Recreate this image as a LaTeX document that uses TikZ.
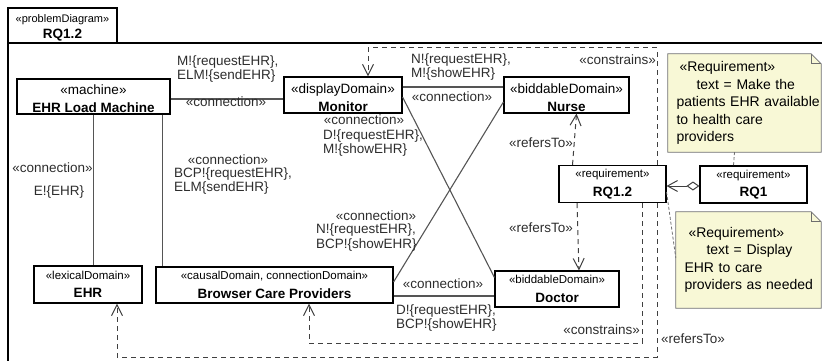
\documentclass[tikz,border=0pt]{standalone}
\usepackage{fontspec}
\setmainfont{Liberation Sans}
\usepackage{xcolor}
\usetikzlibrary{arrows.meta}

\definecolor{linegray}{RGB}{85,85,85}
\definecolor{textgray}{RGB}{45,45,45}
\definecolor{noteyellow}{RGB}{248,248,214}
\definecolor{notegray}{RGB}{110,110,110}
\newcommand{\stsmall}{\fontsize{11.5}{13}\selectfont}

\begin{document}
\begin{tikzpicture}[x=1pt,y=-1pt,
  >={Straight Barb[length=11pt,width=11pt]},
  every node/.style={font=\fontsize{13.5}{14.5}\selectfont, text=textgray, inner sep=0pt},
  box/.style={draw=black, line width=1.1pt, fill=white, align=center, text=black},
  conn/.style={draw=linegray, line width=1.1pt},
  dep/.style={draw=black!75, line width=1pt, dash pattern=on 5pt off 4pt, ->},
  agg/.style={draw=black!75, line width=1pt,
    arrows={Straight Barb[length=10pt,width=11pt]-Diamond[open,length=13pt,width=9pt]}},
  lbl/.style={align=left},
  note/.style={fill=noteyellow, align=left, text=black, inner xsep=8.5pt,
    font=\fontsize{14}{17.5}\selectfont},
  notelink/.style={draw=notegray, line width=0.8pt, dash pattern=on 3pt off 2pt}]

  \useasboundingbox (0,0) rectangle (822,361);

  % Diagram frame with its tab
  \draw[line width=1.1pt] (822,43) -- (8,43) -- (8,361);
  \node[box, minimum width=109pt, minimum height=35pt] (tab) at (62.5,25.5)
    {\rule{0pt}{13pt}{\fontsize{11}{12}\selectfont «problemDiagram»}\\[2pt]\textbf{RQ1.2}};

  % Domains and machine
  \node[box, minimum width=153pt, minimum height=35pt] (elm) at (93.5,96.5)
    {\rule{0pt}{14.5pt}«machine»\\[3.5pt]\textbf{EHR Load Machine}};
  \node[box, minimum width=118pt, minimum height=36pt] (mon) at (343,95)
    {\rule{0pt}{14.5pt}«displayDomain»\\[3.5pt]\textbf{Monitor}};
  \node[box, minimum width=125pt, minimum height=36pt] (nurse) at (566.5,95)
    {\rule{0pt}{14.5pt}«biddableDomain»\\[3.5pt]\textbf{Nurse}};
  \node[box, minimum width=108pt, minimum height=37pt] (ehr) at (88,284.5)
    {{\stsmall «lexicalDomain»}\\[4pt]\textbf{EHR}};
  \node[box, minimum width=237pt, minimum height=36pt] (bcp) at (274.5,285)
    {{\stsmall «causalDomain, connectionDomain»}\\[4pt]\textbf{Browser Care Providers}};
  \node[box, minimum width=124pt, minimum height=36pt] (doc) at (557,289)
    {{\stsmall «biddableDomain»}\\[4pt]\textbf{Doctor}};

  % Requirements
  \node[box, minimum width=107pt, minimum height=37pt] (rq12) at (612.5,184)
    {{\stsmall «requirement»}\\[4pt]\textbf{RQ1.2}};
  \node[box, minimum width=107pt, minimum height=37pt] (rq1) at (753.5,184.5)
    {{\stsmall «requirement»}\\[4pt]\textbf{RQ1}};

  % Notes
  \node[note, text width=136pt, minimum height=98pt] (note1) at (744.5,103)
    {\mbox{\hspace*{3pt}«Requirement»}\\\mbox{\hspace*{20pt}text = Make the}\\
     \mbox{patients EHR available}\\\mbox{to health care}\\\mbox{providers}};
  \node[note, text width=128pt, minimum height=96pt] (note2) at (748.5,260)
    {\mbox{\hspace*{4pt}«Requirement»}\\\mbox{\hspace*{22pt}text = Display}\\
     \mbox{EHR to care}\\\mbox{providers as needed}};
  \foreach \n in {note1,note2} {
    \fill[white] ([xshift=-10pt]\n.north east) -- (\n.north east) -- ([yshift=-10pt]\n.north east) -- cycle;
    \draw[notegray, line width=0.8pt] (\n.south west) -- (\n.north west) -- ([xshift=-10pt]\n.north east)
      -- ([yshift=-10pt]\n.north east) -- (\n.south east) -- cycle;
    \draw[notegray, line width=0.8pt] ([xshift=-10pt]\n.north east) |- ([yshift=-10pt]\n.north east);
  }
  \draw[notelink] ([xshift=-10pt]note1.south) -- ([xshift=-20pt]rq1.north);
  \draw[notelink] ([yshift=-8pt]rq12.east) -- ([yshift=2pt]note2.west);

  % Connections
  \draw[conn] ([yshift=-2.5pt]elm.east) -- ([yshift=-2.5pt]elm.east -| mon.west);
  \draw[conn] (elm.south) -- (elm.south |- ehr.north);
  \draw[conn] ([xshift=-8pt]elm.south east) -- ([xshift=-8pt]elm.south east |- bcp.north);
  \draw[conn] ([yshift=8pt]mon.east) -- ([yshift=8pt]mon.east -| nurse.west);
  \draw[conn] ([yshift=-2pt]mon.east) -- ([yshift=-7pt]doc.north west);
  \draw[conn] ([yshift=-7pt]nurse.west) -- ([yshift=3pt]bcp.east);
  \draw[conn] ([yshift=-11pt]bcp.east) -- ([yshift=-11pt]bcp.east -| doc.west);

  \node[lbl, anchor=west] (l1) at (177,69) {M!\{requestEHR\},\\ELM!\{sendEHR\}};
  \node (l2) at (226,102) {«connection»};
  \node (l3) at (52.5,168) {«connection»};
  \node (l4) at (59,192) {E!\{EHR\}};
  \node (l5) at (228,160) {«connection»};
  \node[lbl, anchor=west] (l6) at (174,181) {BCP!\{requestEHR\},\\ELM\{sendEHR\}};
  \node[lbl, anchor=west] (l7) at (411,67) {N!\{requestEHR\},\\M!\{showEHR\}};
  \node (l8) at (452,97) {«connection»};
  \node (l9) at (364,119.5) {«connection»};
  \node[lbl, anchor=west] (l10) at (323,143) {D!\{requestEHR\},\\M!\{showEHR\}};
  \node (l11) at (376,216) {«connection»};
  \node[lbl, anchor=west] (l12) at (316,237.5) {N!\{requestEHR\},\\BCP!\{showEHR\}};
  \node (l13) at (443,284) {«connection»};
  \node[lbl, anchor=west] (l14) at (396,318) {D!\{requestEHR\},\\BCP!\{showEHR\}};

  % Requirement links
  \coordinate (ctop) at (0,48);
  \coordinate (cbot1) at (0,343);
  \coordinate (cbot2) at (0,357);
  \draw[dep] ([xshift=-40pt]rq12.north) -- ([xshift=10pt]nurse.south);
  \draw[dep] ([xshift=-35.5pt]rq12.south) -- ([xshift=22pt]doc.north);
  \draw[dep] ([xshift=44.5pt]rq12.north) |- ([xshift=25pt]mon.north |- ctop) -- ([xshift=25pt]mon.north);
  \draw[dep] ([xshift=29.5pt]rq12.south) |- ([xshift=34.5pt]bcp.south |- cbot1) -- ([xshift=34.5pt]bcp.south);
  \draw[dep] ([xshift=44.5pt]rq12.south) |- ([xshift=29pt]ehr.south |- cbot2) -- ([xshift=29pt]ehr.south);
  \draw[agg] ([yshift=-2pt]rq12.east) -- ([yshift=-2pt]rq12.east -| rq1.west);

  \node (l15) at (541,143) {«refersTo»};
  \node (l16) at (541,228) {«refersTo»};
  \node[anchor=east] (l17) at (656,60) {«constrains»};
  \node[anchor=east] (l18) at (640,330) {«constrains»};
  \node[anchor=west] (l19) at (661,339) {«refersTo»};

\end{tikzpicture}
\end{document}
